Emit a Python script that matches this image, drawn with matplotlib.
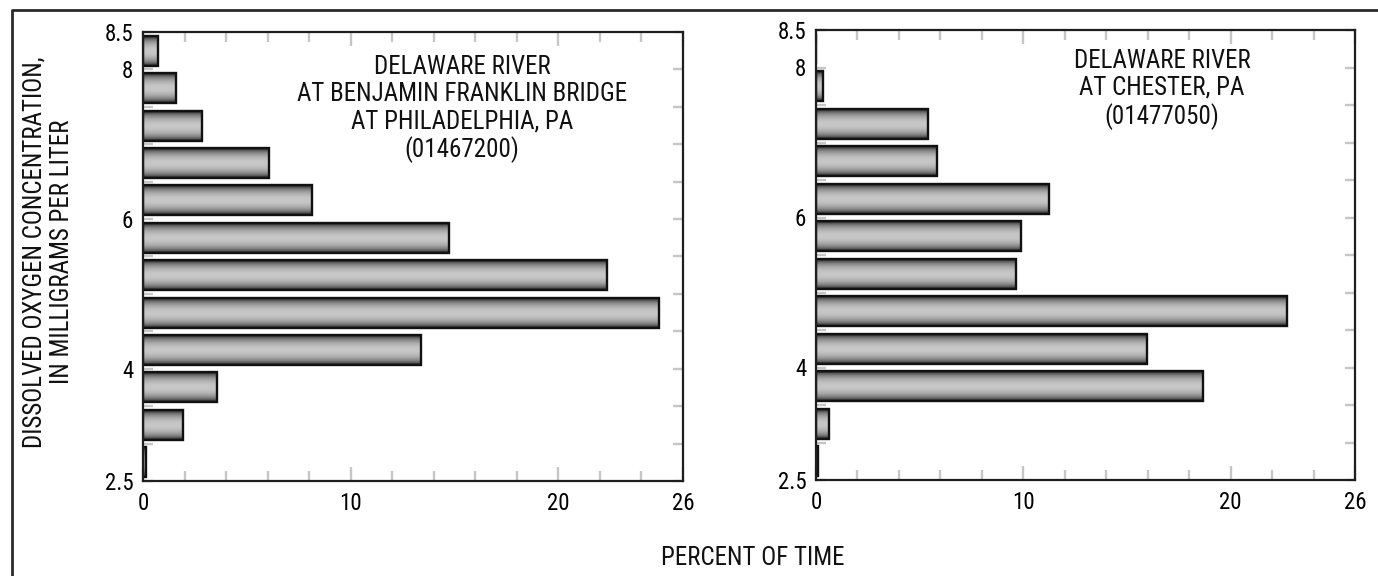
import numpy as np
import matplotlib
matplotlib.use("Agg")
import matplotlib.pyplot as plt
from matplotlib import font_manager
from matplotlib.lines import Line2D

# ---- data -------------------------------------------------------------
# lower edge of each 0.5 mg/L dissolved-oxygen class
do_bins = [2.5, 3.0, 3.5, 4.0, 4.5, 5.0, 5.5, 6.0, 6.5, 7.0, 7.5, 8.0]
# percent of time in each class
philadelphia_pct = [0.14, 1.94, 3.55, 13.38, 24.84, 22.36, 14.73, 8.15, 6.07, 2.86, 1.57, 0.72]
chester_pct = [0.10, 0.63, 18.65, 15.96, 22.70, 9.65, 9.89, 11.26, 5.85, 5.40, 0.35, 0.0]

philadelphia_title = "DELAWARE RIVER\nAT BENJAMIN FRANKLIN BRIDGE\nAT PHILADELPHIA, PA\n(01467200)"
chester_title = "DELAWARE RIVER\nAT CHESTER, PA\n(01477050)"

x_ticks = [0, 10, 20, 26]
y_ticks = [2.5, 4, 6, 8, 8.5]
y_ticklabels = ["2.5", "4", "6", "8", "8.5"]

# ---- fonts: prefer a narrow sans face --------------------------------
entries = font_manager.fontManager.ttflist


def available(name, stretch=None):
    return any(e.name == name and (stretch is None or str(e.stretch) == stretch)
               for e in entries)


candidates = [
    ("Liberation Sans Narrow", "normal", 1.0),
    ("Roboto Condensed", "normal", 1.0),
    ("DejaVu Sans Condensed", "normal", 0.86),
    ("DejaVu Sans", "condensed", 0.86),
    ("Open Sans Condensed", "normal", 0.95),
    ("Open Sans", "condensed", 0.95),
    ("Noto Sans", "condensed", 0.95),
    ("Roboto", "condensed", 1.0),
]
FONT, STRETCH, SCALE = "Roboto", "normal", 0.84
for fam, st, sc in candidates:
    if available(fam, None if st == "normal" else st):
        FONT, STRETCH, SCALE = fam, st, sc
        break
plt.rcParams["font.family"] = [FONT, "DejaVu Sans"]
plt.rcParams["font.stretch"] = STRETCH

FS_TEXT = 18 * SCALE
FS_TICK = 16.5 * SCALE

TICK_GRAY = "#c6c6c6"
SPINE = "#1e1e1e"
BIN_W = 0.5
BAR_H = 0.40

# cylinder-like shading from top edge to bottom edge of each bar
t = np.linspace(0, 1, 64)
shade = 0.18 + 0.60 * np.sin(np.pi * np.clip(t * 1.08 - 0.04, 0, 1)) ** 0.6
shade = shade.reshape(-1, 1)

W, H, DPI = 1378, 576, 100
fig = plt.figure(figsize=(W / DPI, H / DPI), dpi=DPI)


def px_axes(x0, x1, ytop, ybot):
    return fig.add_axes([x0 / W, 1 - ybot / H, (x1 - x0) / W, (ybot - ytop) / H])


def draw_panel(ax, values, title, tx, ty):
    centers = [b + BIN_W / 2 for b in do_bins]
    bars = ax.barh(centers, values, height=BAR_H, facecolor="none",
                   edgecolor="#111111", linewidth=1.7, zorder=4)
    for b in bars:
        w = b.get_width()
        if w <= 0:
            continue
        y0 = b.get_y()
        ax.imshow(shade, extent=[b.get_x(), b.get_x() + w, y0, y0 + b.get_height()],
                  cmap="gray", vmin=0, vmax=1, aspect="auto",
                  interpolation="bilinear", zorder=3)
    ax.set_xlim(0, 26)
    ax.set_ylim(2.5, 8.5)
    ax.set_aspect("auto")

    ax.set_xticks(x_ticks)
    ax.set_xticklabels([str(v) for v in x_ticks])
    ax.set_xticks([v for v in range(2, 26, 2) if v not in (10, 20)], minor=True)
    ax.set_yticks(y_ticks)
    ax.set_yticklabels(y_ticklabels)
    ax.set_yticks([3.0, 3.5, 4.5, 5.0, 5.5, 6.5, 7.0, 7.5], minor=True)

    ax.tick_params(axis="x", which="major", direction="in", length=10, width=1.7,
                   color=TICK_GRAY, top=True, bottom=True, labelsize=FS_TICK, pad=8)
    ax.tick_params(axis="x", which="minor", direction="in", length=7, width=1.7,
                   color=TICK_GRAY, top=True, bottom=True)
    ax.tick_params(axis="y", which="both", direction="in", length=7, width=1.7,
                   color=TICK_GRAY, left=True, right=True, labelsize=FS_TICK, pad=7)
    for s in ax.spines.values():
        s.set_color(SPINE)
        s.set_linewidth(1.6)
        s.set_zorder(5)

    ax.text(tx, ty, title, transform=ax.transAxes, ha="center", va="top",
            fontsize=FS_TEXT, linespacing=1.15, color="#111111", zorder=6)


ax_left = px_axes(143, 683, 32, 481)
ax_right = px_axes(816, 1355, 30, 480)
draw_panel(ax_left, philadelphia_pct, philadelphia_title, 0.591, 0.948)
draw_panel(ax_right, chester_pct, chester_title, 0.642, 0.958)

# shared axis titles
fig.text(48 / W, 1 - 252 / H, "DISSOLVED OXYGEN CONCENTRATION,\nIN MILLIGRAMS PER LITER",
         rotation=90, ha="center", va="center", fontsize=FS_TEXT, linespacing=1.2,
         color="#111111")
fig.text(753 / W, 1 - 558 / H, "PERCENT OF TIME", ha="center", va="center",
         fontsize=FS_TEXT, color="#111111")

# outer frame (top and left edges)
fig.add_artist(Line2D([11.5 / W, 11.5 / W, 1.02], [-0.05, 1 - 9.5 / H, 1 - 9.5 / H],
                      transform=fig.transFigure, color="#2a2a2a", linewidth=2.0))

fig.savefig("out.png", dpi=DPI)
